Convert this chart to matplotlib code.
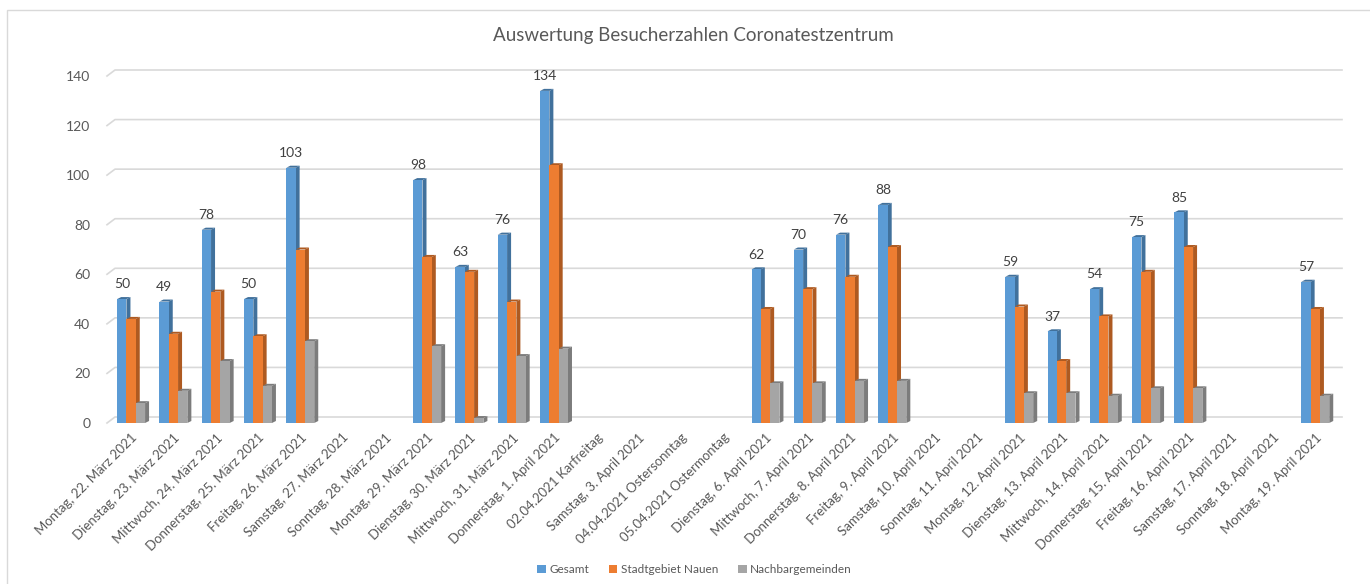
import numpy as np
import matplotlib
matplotlib.use('Agg')
import matplotlib.pyplot as plt
from matplotlib.patches import Polygon, Rectangle

####################################
# Data
####################################

days = ['Montag, 22. März 2021', 'Dienstag, 23. März 2021', 'Mittwoch, 24. März 2021',
        'Donnerstag, 25. März 2021', 'Freitag, 26. März 2021', 'Samstag, 27. März 2021',
        'Sonntag, 28. März 2021', 'Montag, 29. März 2021', 'Dienstag, 30. März 2021',
        'Mittwoch, 31. März 2021', 'Donnerstag, 1. April 2021', '02.04.2021 Karfreitag',
        'Samstag, 3. April 2021', '04.04.2021 Ostersonntag', '05.04.2021 Ostermontag',
        'Dienstag, 6. April 2021', 'Mittwoch, 7. April 2021', 'Donnerstag, 8. April 2021',
        'Freitag, 9. April 2021', 'Samstag, 10. April 2021', 'Sonntag, 11. April 2021',
        'Montag, 12. April 2021', 'Dienstag, 13. April 2021', 'Mittwoch, 14. April 2021',
        'Donnerstag, 15. April 2021', 'Freitag, 16. April 2021', 'Samstag, 17. April 2021',
        'Sonntag, 18. April 2021', 'Montag, 19. April 2021']

n = np.nan
gesamt = [50, 49, 78, 50, 103, n, n, 98, 63, 76, 134, n, n, n, n,
          62, 70, 76, 88, n, n, 59, 37, 54, 75, 85, n, n, 57]
stadt = [42, 36, 53, 35, 70, n, n, 67, 61, 49, 104, n, n, n, n,
         46, 54, 59, 71, n, n, 47, 25, 43, 61, 71, n, n, 46]
nachbar = [8, 13, 25, 15, 33, n, n, 31, 2, 27, 30, n, n, n, n,
           16, 16, 17, 17, n, n, 12, 12, 11, 14, 14, n, n, 11]

series = ['Gesamt', 'Stadtgebiet Nauen', 'Nachbargemeinden']
face_cols = ['#5B9BD5', '#ED7D31', '#A5A5A5']
side_cols = ['#41719C', '#AE5A21', '#7C7C7C']

####################################
# Figure
####################################

plt.rcParams['font.family'] = ['Lato', 'DejaVu Sans']
txt = '#595959'

fig = plt.figure(figsize=(13.7, 5.84), dpi=100)
W, H = 1370, 584
ax = fig.add_axes([107 / W, (H - 423) / H, (1336 - 107) / W, (423 - 76) / H])
ax.set_xlim(-0.57, 28.49)
ax.set_ylim(0, 140)

# light frame around the chart
fig.add_artist(Rectangle((7 / W, -0.1), 1.2, 1.1 - 10 / H, transform=fig.transFigure,
                         fill=False, edgecolor='#D9D9D9', lw=1))

# grid with perspective
px_x = 29.06 / (1336 - 107)     # data units per pixel
px_y = 140 / (423 - 76)
gdx, gdy = 8 * px_x, 6 * px_y
for v in range(0, 141, 20):
    ax.plot([-0.57, -0.57 + gdx, 28.49 + gdx * 0.75], [v, v + gdy, v + gdy],
            color='#D9D9D9', lw=1.2, clip_on=False, zorder=0)

# 3D-ish bars
x = np.arange(len(days))
bw = 0.22
ddx, ddy = 4 * px_x, 2 * px_y
for i, (vals, fc, sc) in enumerate(zip([gesamt, stadt, nachbar], face_cols, side_cols)):
    xs = x + (i - 1) * bw
    ax.bar(xs, vals, width=bw, color=fc, zorder=3, label=series[i])
    for xi, v in zip(xs, vals):
        if np.isnan(v):
            continue
        l, r = xi - bw / 2, xi + bw / 2
        ax.add_patch(Polygon([[r, 0], [r + ddx, ddy], [r + ddx, v + ddy], [r, v]],
                             closed=True, color=sc, zorder=2, lw=0))
        ax.add_patch(Polygon([[l, v], [l + ddx, v + ddy], [r + ddx, v + ddy], [r, v]],
                             closed=True, color=sc, zorder=2, lw=0))

# value labels
for xi, v in zip(x - bw, gesamt):
    if not np.isnan(v):
        ax.text(xi, v + 3.5, str(int(v)), ha='center', va='bottom', fontsize=10, color='#404040')

for s in ax.spines.values():
    s.set_visible(False)
ax.set_yticks(range(0, 141, 20))
ax.tick_params(axis='y', length=0, pad=12, labelsize=10, labelcolor=txt)
ax.set_xticks(x)
ax.set_xticklabels(days, rotation=45, ha='right', rotation_mode='anchor',
                   fontsize=9.5, color=txt)
ax.tick_params(axis='x', length=0, pad=6)

fig.text(0.506, 0.94, 'Auswertung Besucherzahlen Coronatestzentrum',
         ha='center', va='center', fontsize=13.5, color=txt)

fig.legend(loc='center', bbox_to_anchor=(0.507, 0.024), ncol=3, frameon=False,
           fontsize=8.5, labelcolor=txt, handlelength=0.7, handleheight=0.7,
           handletextpad=0.3, columnspacing=1.7)

fig.savefig('out.png', dpi=100)
